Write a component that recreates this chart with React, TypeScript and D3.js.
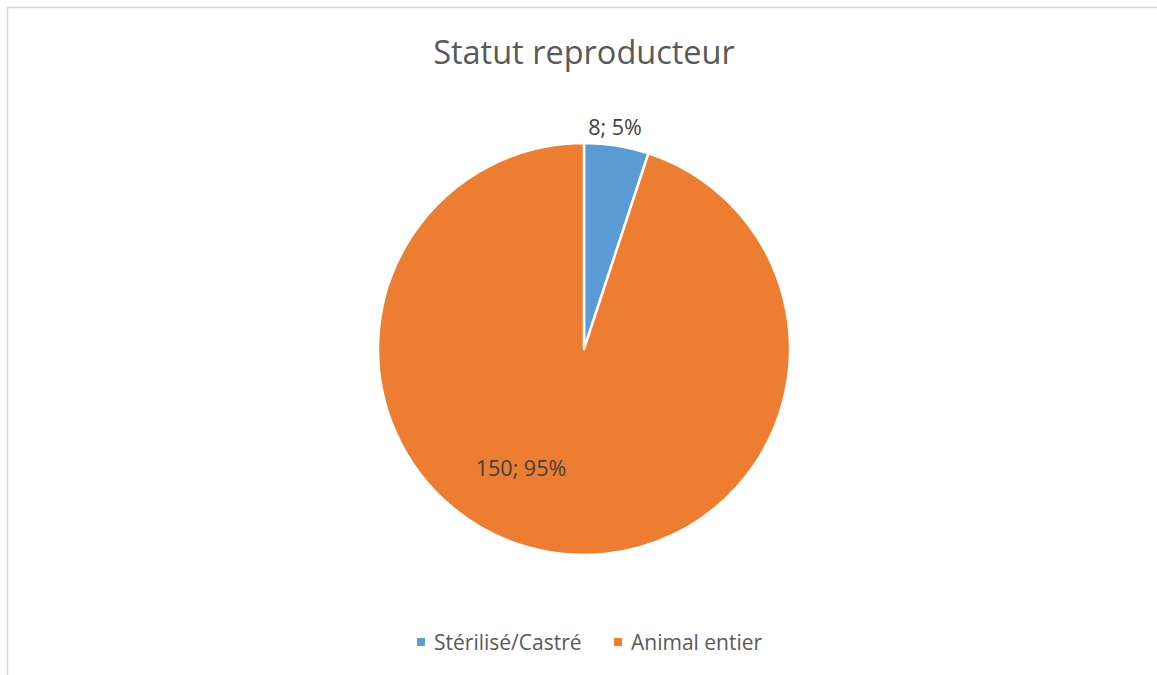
import React from "react";
import * as d3 from "d3";

const categories = ["Stérilisé/Castré", "Animal entier"];
const values = [8, 150];
const labels = ["8; 5%", "150; 95%"];
const colors = ["#5B9BD5", "#ED7D31"];
const title = "Statut reproducteur";

const W = 1157;
const H = 675;
const cx = 584;
const cy = 349;
const R = 206;
const FONT = "'Open Sans', 'Liberation Sans', sans-serif";

export default function App() {
  const pie = d3.pie<number>().sort(null).value((d) => d)(values);
  const arc = d3.arc<d3.PieArcDatum<number>>().innerRadius(0).outerRadius(R);
  const labelPos = [
    [615, 135],
    [521, 476],
  ];
  const legendX = [417, 614];
  return (
    <svg
      width={W}
      height={H}
      style={{ position: "absolute", left: 0, top: 0 }}
    >
      <rect x={0} y={0} width={W} height={H} fill="#fff" />
      <rect x={7.5} y={7.5} width={W + 10} height={H + 10} fill="#fff" stroke="#d9d9d9" strokeWidth={1.5} />
      <text x={584} y={64} textAnchor="middle" fontFamily={FONT} fontSize={32.5} fill="#595959">
        {title}
      </text>
      <g transform={`translate(${cx},${cy})`}>
        {pie.map((d, i) => (
          <path key={i} d={arc(d) || ""} fill={colors[i]} stroke="#fff" strokeWidth={2.5} strokeLinejoin="round" />
        ))}
      </g>
      {labels.map((l, i) => (
        <text key={i} x={labelPos[i][0]} y={labelPos[i][1]} textAnchor="middle" fontFamily={FONT} fontSize={21.5} fill="#404040">
          {l}
        </text>
      ))}
      {categories.map((c, i) => (
        <g key={c}>
          <rect x={legendX[i]} y={638} width={8} height={8} fill={colors[i]} />
          <text x={legendX[i] + 17} y={650} fontFamily={FONT} fontSize={21} fill="#595959">
            {c}
          </text>
        </g>
      ))}
    </svg>
  );
}
